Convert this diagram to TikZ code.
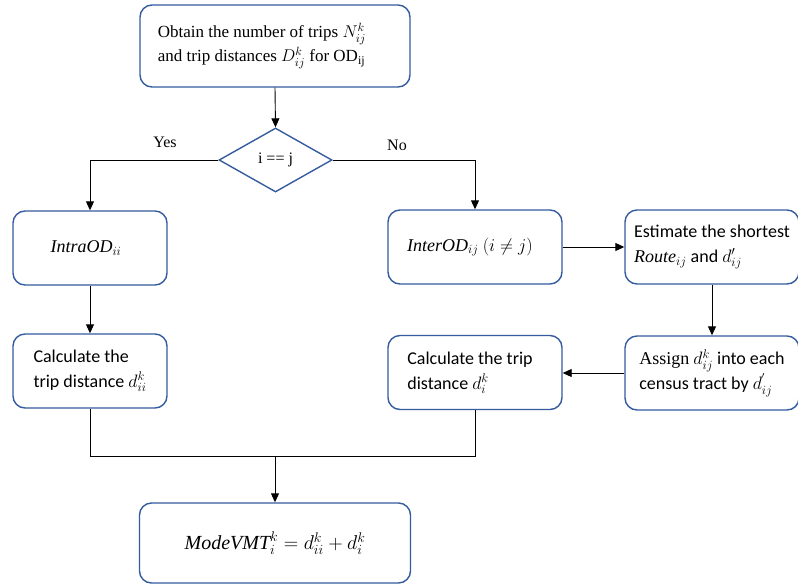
\RequirePackage{fix-cm}
\documentclass[tikz,border=0pt]{standalone}
\usepackage{fontspec}
\setmainfont{Liberation Serif}
\newfontfamily\carlitofont{Carlito}
\usetikzlibrary{shapes.geometric,arrows.meta}
\definecolor{boxblue}{RGB}{52,92,158}
\tikzset{
  box/.style={draw=boxblue, line width=1.4pt, rounded corners=12pt, fill=white, inner sep=0pt},
  conn/.style={draw=black, line width=0.9pt},
  arr/.style={conn, -{Triangle[length=9pt,width=8pt]}},
  ctext/.style={font=\carlitofont\fontsize{18}{25}\selectfont, align=left},
  ttext/.style={font=\fontsize{17}{24}\selectfont, align=left},
}
\begin{document}
\begin{tikzpicture}[x=1pt,y=-1pt]
\useasboundingbox (0,0) rectangle (798,584);
% boxes
\node[box, minimum width=270pt, minimum height=82pt, ttext] (top) at (275,46)
  {Obtain the number of trips $N_{ij}^{k}$\hspace*{26pt}\\and trip distances $D_{ij}^{k}$ for OD$_{\mathrm{ij}}$};
\node[shape=diamond, draw=boxblue, line width=1.4pt, minimum width=113pt, minimum height=64pt, inner sep=0pt, font=\fontsize{16}{18}\selectfont] (dec) at (275.5,160) {i == j};
\node[box, minimum width=154pt, minimum height=74pt, ctext] (intra) at (90,248) {\hspace*{-8pt}$\mathit{IntraOD}_{ii}$};
\node[box, minimum width=174pt, minimum height=74pt, ctext] (inter) at (475,247) {$\mathit{InterOD}_{ij}\ (i\neq j)$\hspace*{10pt}};
\node[box, minimum width=174pt, minimum height=74pt, ctext] (est) at (712,247)
  {Estimate the shortest\\$\mathit{Route}_{ij}$ and $d_{ij}'$};
\node[box, minimum width=154pt, minimum height=74pt, ctext] (calcL) at (90,371)
  {Calculate the\\trip distance $d_{ii}^{k}$};
\node[box, minimum width=174pt, minimum height=74pt, ctext] (calcR) at (475,372.5)
  {Calculate the trip\hspace*{10pt}\\distance $d_{i}^{k}$};
\node[box, minimum width=174pt, minimum height=74pt, ctext] (assign) at (712,373)
  {{\rmfamily Assign} $d_{ij}^{k}$ into each\\census tract by $d_{ij}^{'}$};
\node[box, minimum width=271pt, minimum height=80pt, font=\fontsize{20}{24}\selectfont] (res) at (275,543)
  {$\mathit{ModeVMT}_{i}^{k} = d_{ii}^{k} + d_{i}^{k}$};
% labels
\node[font=\fontsize{16}{18}\selectfont] (yes) at (165,142) {Yes};
\node[font=\fontsize{16}{18}\selectfont] (no) at (397,145) {No};
% connectors
\draw[arr] (top.south) -- (dec.north);
\draw[arr] (dec.west) -| (intra.north);
\draw[arr] (dec.east) -| (inter.north);
\draw[arr] (inter.east) -- (inter.east -| est.west);
\draw[arr] (est.south) -- (assign.north);
\draw[arr] (assign.west) -- (assign.west -| calcR.east);
\draw[arr] (intra.south) -- (calcL.north);
\coordinate (jL) at (90,456);
\coordinate (jR) at (475,456);
\coordinate (jM) at (275,456);
\draw[conn] (calcL.south) -- (jL) -- (jR) -- (calcR.south);
\draw[arr] (jM) -- (res.north);
\end{tikzpicture}
\end{document}
